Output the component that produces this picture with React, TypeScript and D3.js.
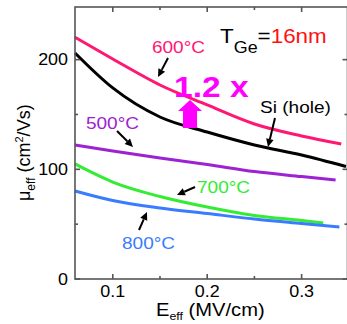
import React from "react";
import * as d3 from "d3";

// effective field (MV/cm) and mobility (cm2/Vs)
const e600 = [0.06, 0.1, 0.15, 0.2, 0.25, 0.3, 0.342];
const mu600 = [220.4, 200.6, 176.9, 158.7, 141.3, 130.4, 123.1];
const eSi = [0.06, 0.1, 0.15, 0.2, 0.25, 0.3, 0.347];
const muSi = [206.1, 174.2, 147.7, 134, 122.2, 113.1, 102.6];
const e500 = [0.06, 0.1, 0.15, 0.2, 0.25, 0.3, 0.336];
const mu500 = [122.2, 116.7, 110.3, 104.4, 98, 93.4, 90.2];
const e700 = [0.06, 0.1, 0.15, 0.2, 0.25, 0.3, 0.323];
const mu700 = [104.9, 88.4, 75.2, 65.6, 57.9, 53.3, 51.1];
const e800 = [0.06, 0.1, 0.15, 0.2, 0.25, 0.3, 0.34];
const mu800 = [80.2, 71.5, 64.7, 59.7, 54.7, 50.6, 47.4];

const xTicks = [0.1, 0.2, 0.3];
const xMinor = [0.15, 0.25];
const yTicks = [0, 100, 200];
const yMinor = [50, 150];

const pink = "#ff1872";
const purple = "#9c22d4";
const green = "#34ec34";
const blue = "#3a7cff";
const axisColor = "#555";
const font = "'Liberation Sans', Arial, sans-serif";
const SX = 1.12; // text in the source figure is a little wide

const W = 347;
const H = 324;
const left = 75;
const right = 347.5;
const top = 7;
const bottom = 279;

const x = d3.scaleLinear().domain([0.06, 0.347]).range([left, 346]);
const y = d3.scaleLinear().domain([0, 248]).range([bottom, top]);

const line = d3
  .line<[number, number]>()
  .x((d) => x(d[0]))
  .y((d) => y(d[1]))
  .curve(d3.curveMonotoneX);

const series = [
  { e: e600, mu: mu600, color: pink },
  { e: eSi, mu: muSi, color: "#000" },
  { e: e500, mu: mu500, color: purple },
  { e: e700, mu: mu700, color: green },
  { e: e800, mu: mu800, color: blue },
];

function Label({ ex, my, size, color, anchor = "start", weight = "normal", children }: any) {
  return (
    <text
      transform={`translate(${x(ex)},${y(my)}) scale(${SX},1)`}
      fontSize={size}
      fill={color}
      textAnchor={anchor}
      fontWeight={weight}
      fontFamily={font}
    >
      {children}
    </text>
  );
}

function Arrow({ from, to }: { from: [number, number]; to: [number, number] }) {
  const x1 = x(from[0]), y1 = y(from[1]);
  const x2 = x(to[0]), y2 = y(to[1]);
  const ang = Math.atan2(y2 - y1, x2 - x1);
  const len = 8, half = 3.8;
  const bx = x2 - len * Math.cos(ang), by = y2 - len * Math.sin(ang);
  const px = -Math.sin(ang) * half, py = Math.cos(ang) * half;
  return (
    <g>
      <line x1={x1} y1={y1} x2={bx} y2={by} stroke="#000" strokeWidth={2} />
      <polygon points={`${x2},${y2} ${bx + px},${by + py} ${bx - px},${by - py}`} fill="#000" />
    </g>
  );
}

export default function App() {
  // magenta block arrow (1.2x)
  const ax = x(0.1818);
  const aTop = y(163.2), aNeck = y(153.2), aBase = y(137.7);
  const block = `M${ax},${aTop} L${ax + 12},${aNeck} L${ax + 7},${aNeck} L${ax + 7},${aBase} L${ax - 7},${aBase} L${ax - 7},${aNeck} L${ax - 12},${aNeck} Z`;

  return (
    <div style={{ position: "absolute", left: 0, top: 0 }}>
      <svg width={W} height={H} style={{ display: "block", background: "#fff" }}>
        {series.map((s, i) => (
          <path
            key={i}
            d={line(s.e.map((v, j) => [v, s.mu[j]] as [number, number])) || ""}
            fill="none"
            stroke={s.color}
            strokeWidth={3}
          />
        ))}

        {/* frame */}
        <g stroke={axisColor} strokeWidth={1.6} fill="none">
          <rect x={left} y={top} width={right - left} height={bottom - top} />
          {xTicks.map((t) => (
            <g key={"x" + t}>
              <line x1={x(t)} x2={x(t)} y1={bottom} y2={bottom - 5} />
              <line x1={x(t)} x2={x(t)} y1={top} y2={top + 5} />
            </g>
          ))}
          {xMinor.map((t) => (
            <g key={"xm" + t}>
              <line x1={x(t)} x2={x(t)} y1={bottom} y2={bottom - 3} />
              <line x1={x(t)} x2={x(t)} y1={top} y2={top + 3} />
            </g>
          ))}
          {yTicks.map((t) => (
            <g key={"y" + t}>
              <line x1={left} x2={left + 5} y1={y(t)} y2={y(t)} />
              <line x1={right} x2={right - 5} y1={y(t)} y2={y(t)} />
            </g>
          ))}
          {yMinor.map((t) => (
            <g key={"ym" + t}>
              <line x1={left} x2={left + 3} y1={y(t)} y2={y(t)} />
              <line x1={right} x2={right - 3} y1={y(t)} y2={y(t)} />
            </g>
          ))}
        </g>

        {/* tick labels */}
        {yTicks.map((t) => (
          <text
            key={"yl" + t}
            transform={`translate(${left - 7},${y(t) + 5.8}) scale(${SX},1)`}
            textAnchor="end"
            fontSize={16}
            fontFamily={font}
          >
            {t}
          </text>
        ))}
        {xTicks.map((t) => (
          <text
            key={"xl" + t}
            transform={`translate(${x(t)},${bottom + 18}) scale(${SX},1)`}
            textAnchor="middle"
            fontSize={16}
            fontFamily={font}
          >
            {t.toFixed(1)}
          </text>
        ))}

        {/* axis titles */}
        <text transform={`translate(${156},316) scale(${SX},1)`} fontSize={18} fontFamily={font}>
          E<tspan fontSize={11} dy={4}>eff</tspan>
          <tspan dy={-4}> (MV/cm)</tspan>
        </text>
        <text transform={`translate(30,201) rotate(-90)`} fontSize={18} fontFamily={font}>
          μ<tspan fontSize={12} dy={5}>eff</tspan>
          <tspan dy={-5}> (cm</tspan>
          <tspan fontSize={11} dy={-7}>2</tspan>
          <tspan dy={7}>/Vs)</tspan>
        </text>

        {/* annotations */}
        <Label ex={0.1415} my={206} size={17} color={pink}>600°C</Label>
        <Arrow from={[0.1585, 201.5]} to={[0.1479, 184.2]} />
        <Label ex={0.1648} my={166} size={30} color="#ff00ff" weight="bold">1.2 x</Label>
        <path d={block} fill="#ff00ff" />
        <text transform={`translate(${x(0.2136)},${y(215.2)}) scale(${SX},1)`} fontSize={20} fontFamily={font}>
          T<tspan fontSize={16} dy={10}>Ge</tspan>
          <tspan dy={-10}>=</tspan>
          <tspan fill="#ff1010">16nm</tspan>
        </text>
        <Label ex={0.256} my={151.4} size={17} color="#000">Si (hole)</Label>
        <Arrow from={[0.2718, 146.8]} to={[0.2644, 120.4]} />
        <Label ex={0.0716} my={136.8} size={17} color={purple}>500°C</Label>
        <Arrow from={[0.1045, 135]} to={[0.1214, 120.4]} />
        <Label ex={0.1892} my={78.4} size={17} color={green}>700°C</Label>
        <Arrow from={[0.1871, 83.9]} to={[0.168, 76.6]} />
        <Label ex={0.1098} my={27.4} size={17} color={blue}>800°C</Label>
        <Arrow from={[0.1278, 44.7]} to={[0.1362, 61.1]} />
      </svg>
    </div>
  );
}
